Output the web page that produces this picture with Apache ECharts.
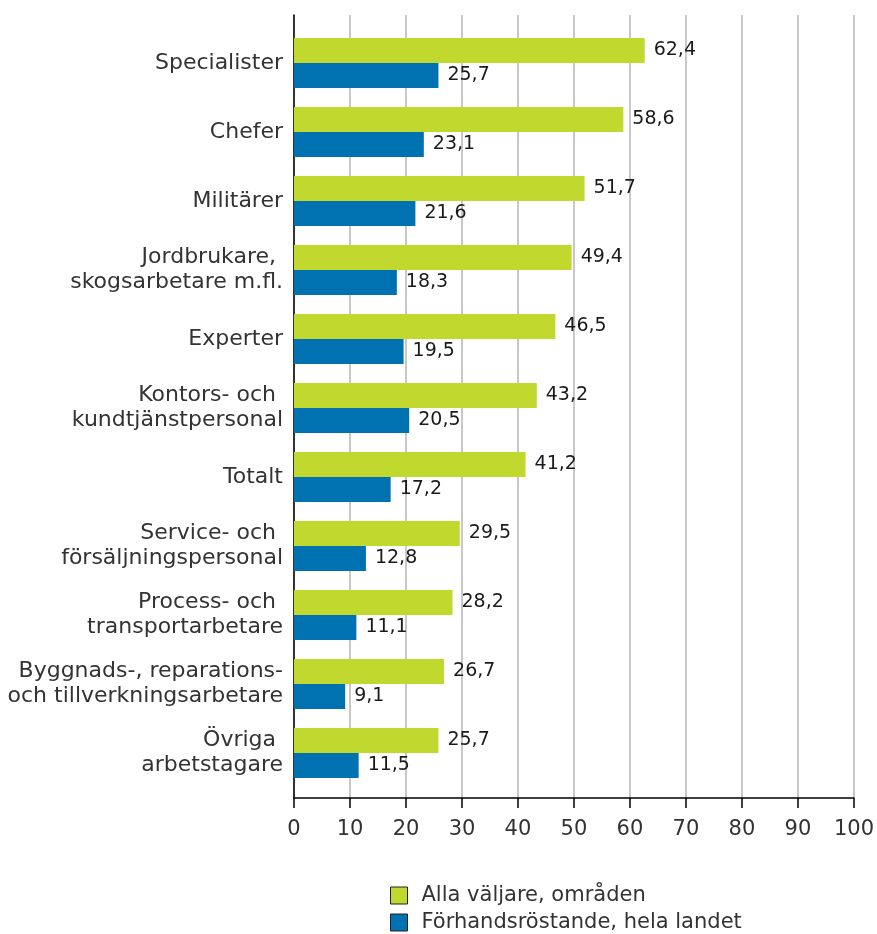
<!DOCTYPE html>
<html>
<head>
<meta charset="utf-8">
<script src="https://cdn.jsdelivr.net/npm/echarts@6/dist/echarts.min.js"></script>
<style>
  html, body { margin: 0; padding: 0; background: #fff; }
  #chart { width: 877px; height: 934px; }
</style>
</head>
<body>
<div id="chart"></div>
<script>
const categories = [
  'Specialister',
  'Chefer',
  'Militärer',
  'Jordbrukare, \nskogsarbetare m.fl.',
  'Experter',
  'Kontors- och \nkundtjänstpersonal',
  'Totalt',
  'Service- och \nförsäljningspersonal',
  'Process- och \ntransportarbetare',
  'Byggnads-, reparations-\noch tillverkningsarbetare',
  'Övriga \narbetstagare'
];
const allaValjare = [62.4, 58.6, 51.7, 49.4, 46.5, 43.2, 41.2, 29.5, 28.2, 26.7, 25.7];
const forhandsrostande = [25.7, 23.1, 21.6, 18.3, 19.5, 20.5, 17.2, 12.8, 11.1, 9.1, 11.5];
const seriesNames = ['Alla väljare, områden', 'Förhandsröstande, hela landet'];

const font = 'DejaVu Sans';
const fmt = p => p.value.toFixed(1).replace('.', ',');

const legendBox = (name, top) => ({
  orient: 'vertical', left: 390, top: top, padding: 0,
  icon: 'rect', itemWidth: 17, itemHeight: 17,
  itemStyle: { borderColor: '#222', borderWidth: 1 },
  textStyle: { fontSize: 21, lineHeight: 17, color: '#333', fontFamily: font, padding: [0, 0, 0, 9] },
  data: [name]
});

const chart = echarts.init(document.getElementById('chart'));
chart.setOption({
  backgroundColor: '#fff',
  animation: false,
  textStyle: { fontFamily: font },
  grid: [
    { left: 294, right: 21, top: 28.5, height: 759 },
    { left: 294, right: 21, top: 15, bottom: 136 }
  ],
  xAxis: [
    { gridIndex: 0, type: 'value', min: 0, max: 100, show: false },
    {
      gridIndex: 1, type: 'value', min: 0, max: 100, interval: 10,
      axisLine: { show: true, lineStyle: { color: '#000', width: 1.5 } },
      axisTick: { show: true, length: 10, lineStyle: { color: '#000', width: 1.5 } },
      axisLabel: { fontSize: 21, color: '#333', margin: 21, fontFamily: font },
      splitLine: { show: true, lineStyle: { color: '#c8c8c8', width: 2 } }
    }
  ],
  yAxis: [
    {
      gridIndex: 0, type: 'category', data: categories, inverse: true,
      axisLine: { show: false }, axisTick: { show: false },
      axisLabel: { fontSize: 22, color: '#333', margin: 11, lineHeight: 25, align: 'right', fontFamily: font }
    },
    {
      gridIndex: 1, type: 'value', min: 0, max: 1,
      axisLine: { show: true, lineStyle: { color: '#000', width: 1.5 } },
      axisTick: { show: false }, axisLabel: { show: false }, splitLine: { show: false }
    }
  ],
  legend: [legendBox(seriesNames[0], 885), legendBox(seriesNames[1], 912)],
  series: [
    {
      name: seriesNames[0], type: 'bar', xAxisIndex: 0, yAxisIndex: 0,
      data: allaValjare, barWidth: 25, barGap: '0%',
      itemStyle: { color: '#c1d82f' },
      label: { show: true, position: 'right', distance: 9, fontSize: 19, color: '#1a1a1a', fontFamily: font, formatter: fmt }
    },
    {
      name: seriesNames[1], type: 'bar', xAxisIndex: 0, yAxisIndex: 0,
      data: forhandsrostande, barWidth: 25, barGap: '0%',
      itemStyle: { color: '#0072b1' },
      label: { show: true, position: 'right', distance: 9, fontSize: 19, color: '#1a1a1a', fontFamily: font, formatter: fmt }
    }
  ]
});
</script>
</body>
</html>
